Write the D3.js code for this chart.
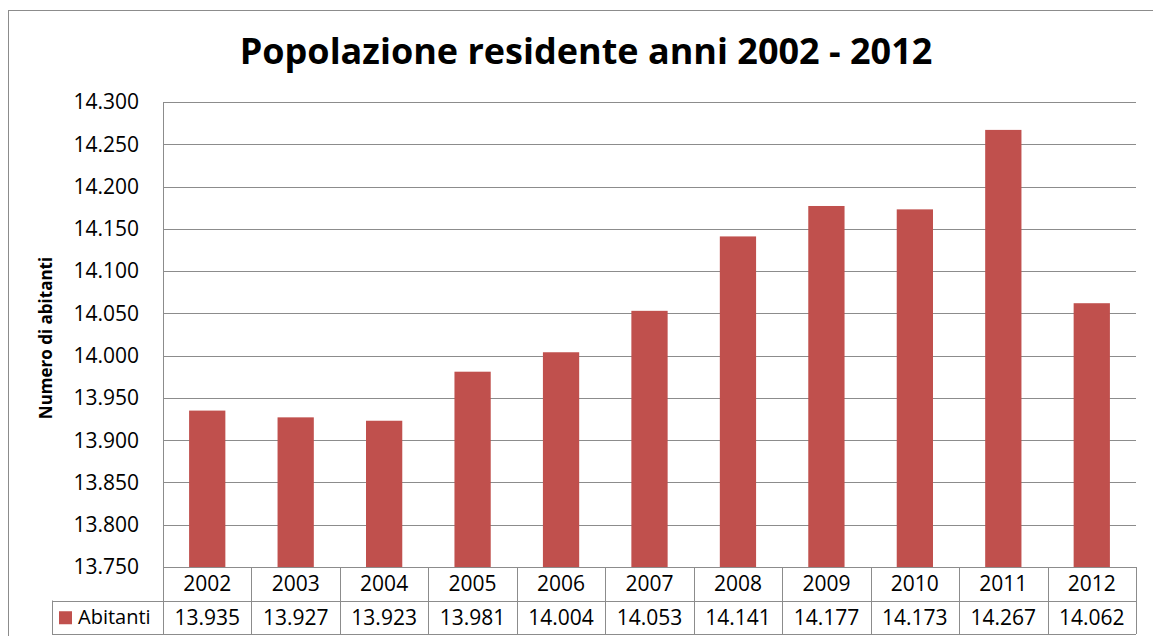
<!DOCTYPE html>
<html>
<head>
<meta charset="utf-8">
<script src="https://cdn.jsdelivr.net/npm/d3@7"></script>
<style>
  body { margin: 0; background: #fff; }
  svg { display: block; font-family: 'Open Sans', 'Liberation Sans', sans-serif; }
</style>
</head>
<body>
<div id="chart"></div>
<script>
const years = ['2002', '2003', '2004', '2005', '2006', '2007', '2008', '2009', '2010', '2011', '2012'];
const abitanti = [13935, 13927, 13923, 13981, 14004, 14053, 14141, 14177, 14173, 14267, 14062];
const yTicks = [13750, 13800, 13850, 13900, 13950, 14000, 14050, 14100, 14150, 14200, 14250, 14300];
const seriesName = 'Abitanti';

const width = 1153, height = 636;
const margin = { top: 102, right: 17, bottom: 69, left: 163 };
const barColor = '#c0504d';
const lineColor = '#8c8c8c';

// italian number format: 13.935
const it = d3.formatLocale({ decimal: ',', thousands: '.', grouping: [3], currency: ['€', ''] });
const fmtInt = it.format(',');

const svg = d3.select('#chart').append('svg')
  .attr('width', width)
  .attr('height', height);

// outer chart border
svg.append('rect')
  .attr('x', 8.5).attr('y', 10.5)
  .attr('width', width + 10).attr('height', height + 10)
  .attr('fill', 'none')
  .attr('stroke', lineColor);

const x = d3.scaleBand()
  .domain(years)
  .range([margin.left, width - margin.right])
  .paddingInner(0.59)
  .paddingOuter(0.295);

const y = d3.scaleLinear()
  .domain([13750, 14300])
  .range([height - margin.bottom, margin.top]);

// gridlines
svg.append('g')
  .selectAll('line')
  .data(yTicks)
  .enter().append('line')
  .attr('x1', margin.left)
  .attr('x2', width - margin.right)
  .attr('y1', d => Math.round(y(d)) + 0.5)
  .attr('y2', d => Math.round(y(d)) + 0.5)
  .attr('stroke', lineColor)
  .attr('stroke-width', 1);

// y axis line
svg.append('line')
  .attr('x1', margin.left + 0.5).attr('x2', margin.left + 0.5)
  .attr('y1', margin.top).attr('y2', height - margin.bottom)
  .attr('stroke', lineColor);

// y tick labels
svg.append('g')
  .selectAll('text')
  .data(yTicks)
  .enter().append('text')
  .attr('x', 139)
  .attr('y', d => y(d))
  .attr('dy', '0.35em')
  .attr('text-anchor', 'end')
  .style('font-size', '21px')
  .text(d => fmtInt(d));

// bars
svg.append('g')
  .selectAll('rect')
  .data(abitanti)
  .enter().append('rect')
  .attr('x', (d, i) => x(years[i]))
  .attr('y', d => y(d))
  .attr('width', x.bandwidth())
  .attr('height', d => y(13750) - y(d))
  .attr('fill', barColor);

// data table
const colW = (width - margin.right - margin.left) / years.length;
const row1 = height - margin.bottom;
const rowH = 33.5;
const table = svg.append('g');

// horizontal lines of table
table.append('line')
  .attr('x1', margin.left).attr('x2', width - margin.right)
  .attr('y1', Math.round(row1) + 0.5).attr('y2', Math.round(row1) + 0.5)
  .attr('stroke', lineColor);
table.append('line')
  .attr('x1', 52).attr('x2', width - margin.right)
  .attr('y1', Math.round(row1 + rowH) + 0.5).attr('y2', Math.round(row1 + rowH) + 0.5)
  .attr('stroke', lineColor);
table.append('line')
  .attr('x1', 52).attr('x2', width - margin.right)
  .attr('y1', Math.round(row1 + 2 * rowH) + 0.5).attr('y2', Math.round(row1 + 2 * rowH) + 0.5)
  .attr('stroke', lineColor);

// vertical lines
const vx = d3.range(years.length + 1).map(i => margin.left + i * colW);
table.selectAll('line.v')
  .data(vx)
  .enter().append('line')
  .attr('class', 'v')
  .attr('x1', d => Math.round(d) + 0.5).attr('x2', d => Math.round(d) + 0.5)
  .attr('y1', row1).attr('y2', row1 + 2 * rowH)
  .attr('stroke', lineColor);
table.append('line')
  .attr('x1', 52.5).attr('x2', 52.5)
  .attr('y1', row1 + rowH).attr('y2', row1 + 2 * rowH)
  .attr('stroke', lineColor);

// year labels
table.selectAll('text.year')
  .data(years)
  .enter().append('text')
  .attr('class', 'year')
  .attr('x', d => x(d) + x.bandwidth() / 2)
  .attr('y', row1 + rowH / 2)
  .attr('dy', '0.36em')
  .attr('text-anchor', 'middle')
  .style('font-size', '21px')
  .text(d => d);

// value labels
table.selectAll('text.val')
  .data(abitanti)
  .enter().append('text')
  .attr('class', 'val')
  .attr('x', (d, i) => x(years[i]) + x.bandwidth() / 2)
  .attr('y', row1 + rowH * 1.5)
  .attr('dy', '0.36em')
  .attr('text-anchor', 'middle')
  .style('font-size', '21px')
  .text(d => fmtInt(d));

// legend key in table
table.append('rect')
  .attr('x', 59).attr('y', row1 + rowH * 1.5 - 6)
  .attr('width', 13).attr('height', 13)
  .attr('fill', barColor);
table.append('text')
  .attr('x', 78)
  .attr('y', row1 + rowH * 1.5)
  .attr('dy', '0.36em')
  .style('font-size', '20px')
  .text(seriesName);

// y axis title
svg.append('text')
  .attr('transform', 'translate(52,338) rotate(-90)')
  .attr('text-anchor', 'middle')
  .style('font-size', '17px')
  .style('font-weight', 'bold')
  .text('Numero di abitanti');

// chart title
svg.append('text')
  .attr('x', 586)
  .attr('y', 64)
  .attr('text-anchor', 'middle')
  .style('font-size', '36px')
  .style('font-weight', 'bold')
  .text('Popolazione residente anni 2002 - 2012');
</script>
</body>
</html>
